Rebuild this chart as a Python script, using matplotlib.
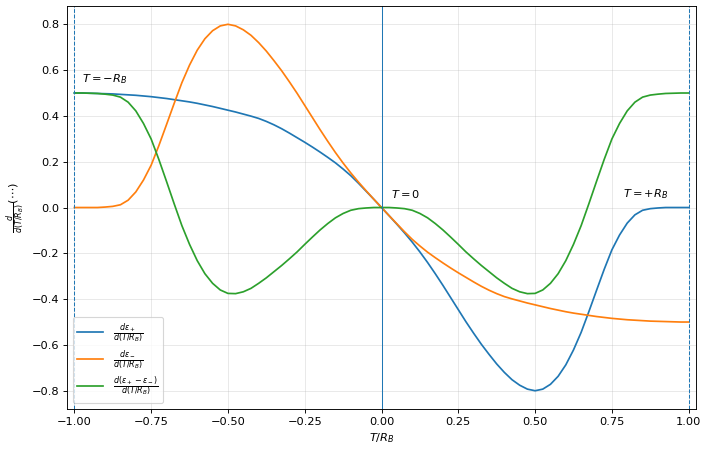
import numpy as np
import matplotlib
matplotlib.use("Agg")
import matplotlib.pyplot as plt

# sampling positions T/R_B
x = [-1.000, -0.975, -0.950, -0.925, -0.900, -0.875, -0.850, -0.825, -0.800, -0.775,
     -0.750, -0.725, -0.700, -0.675, -0.650, -0.625, -0.600, -0.575, -0.550, -0.525,
     -0.500, -0.475, -0.450, -0.425, -0.400, -0.375, -0.350, -0.325, -0.300, -0.275,
     -0.250, -0.225, -0.200, -0.175, -0.150, -0.125, -0.100, -0.075, -0.050, -0.025,
     0.000, 0.025, 0.050, 0.075, 0.100, 0.125, 0.150, 0.175, 0.200, 0.225,
     0.250, 0.275, 0.300, 0.325, 0.350, 0.375, 0.400, 0.425, 0.450, 0.475,
     0.500, 0.525, 0.550, 0.575, 0.600, 0.625, 0.650, 0.675, 0.700, 0.725,
     0.750, 0.775, 0.800, 0.825, 0.850, 0.875, 0.900, 0.925, 0.950, 0.975, 1.000]

# d eps_+ / d(T/R_B)
d_eps_plus = [0.500, 0.500, 0.499, 0.498, 0.497, 0.496, 0.494, 0.492, 0.490, 0.487,
              0.484, 0.480, 0.476, 0.471, 0.466, 0.461, 0.455, 0.448, 0.441, 0.433,
              0.425, 0.417, 0.408, 0.399, 0.389, 0.376, 0.361, 0.344, 0.325, 0.305,
              0.285, 0.264, 0.242, 0.219, 0.195, 0.168, 0.139, 0.106, 0.071, 0.036,
              0.000, -0.036, -0.073, -0.111, -0.151, -0.194, -0.240, -0.289, -0.340, -0.393,
              -0.446, -0.499, -0.549, -0.597, -0.641, -0.683, -0.720, -0.752, -0.776, -0.793,
              -0.800, -0.793, -0.772, -0.737, -0.687, -0.622, -0.545, -0.455, -0.362, -0.270,
              -0.185, -0.120, -0.068, -0.032, -0.012, -0.005, -0.002, 0.000, 0.000, 0.000, 0.000]

# d eps_- / d(T/R_B)
d_eps_minus = [0.000, 0.000, 0.000, 0.000, 0.002, 0.005, 0.012, 0.032, 0.068, 0.120,
               0.185, 0.270, 0.362, 0.455, 0.545, 0.622, 0.687, 0.737, 0.772, 0.793,
               0.800, 0.793, 0.776, 0.752, 0.720, 0.683, 0.641, 0.597, 0.549, 0.499,
               0.446, 0.393, 0.340, 0.289, 0.240, 0.194, 0.151, 0.111, 0.073, 0.036,
               0.000, -0.036, -0.071, -0.106, -0.139, -0.168, -0.195, -0.219, -0.242, -0.264,
               -0.285, -0.305, -0.325, -0.344, -0.361, -0.376, -0.389, -0.399, -0.408, -0.417,
               -0.425, -0.433, -0.441, -0.448, -0.455, -0.461, -0.466, -0.471, -0.476, -0.480,
               -0.484, -0.487, -0.490, -0.492, -0.494, -0.496, -0.497, -0.498, -0.499, -0.500, -0.500]

# d(eps_+ - eps_-) / d(T/R_B)
d_eps_diff = [0.500, 0.500, 0.499, 0.498, 0.495, 0.491, 0.482, 0.460, 0.422, 0.367,
              0.299, 0.210, 0.114, 0.016, -0.079, -0.161, -0.232, -0.289, -0.331, -0.360,
              -0.375, -0.376, -0.368, -0.353, -0.331, -0.307, -0.280, -0.253, -0.224, -0.194,
              -0.161, -0.129, -0.098, -0.070, -0.045, -0.026, -0.012, -0.005, -0.002, 0.000,
              0.000, 0.000, -0.002, -0.005, -0.012, -0.026, -0.045, -0.070, -0.098, -0.129,
              -0.161, -0.194, -0.224, -0.253, -0.280, -0.307, -0.331, -0.353, -0.368, -0.376,
              -0.375, -0.360, -0.331, -0.289, -0.232, -0.161, -0.079, 0.016, 0.114, 0.210,
              0.299, 0.367, 0.422, 0.460, 0.482, 0.491, 0.495, 0.498, 0.499, 0.500, 0.500]

dpi = 82
fig = plt.figure(figsize=(709 / dpi, 453 / dpi), dpi=dpi)
ax = fig.add_axes([0.0945, 0.097, 0.8872, 0.8898])

ax.plot(x, d_eps_plus, label=r'$\frac{d\varepsilon_+}{d(T/R_B)}$')
ax.plot(x, d_eps_minus, label=r'$\frac{d\varepsilon_-}{d(T/R_B)}$')
ax.plot(x, d_eps_diff, label=r'$\frac{d(\varepsilon_+ - \varepsilon_-)}{d(T/R_B)}$')

# reference lines
ax.axvline(0, color='C0', lw=0.9)
ax.axvline(-1, color='C0', ls='--', lw=0.9)
ax.axvline(1, color='C0', ls='--', lw=0.9)

ax.text(-0.975, 0.56, r'$T=-R_B$', va='center')
ax.text(0.03, 0.06, r'$T=0$', va='center')
ax.text(0.785, 0.06, r'$T=+R_B$', va='center')

ax.set_xlim(-1.024, 1.024)
ax.set_xlabel(r'$T/R_B$')
ax.set_ylabel(r'$\frac{d}{d(T/R_B)}(\cdots)$')
ax.grid(True, alpha=0.3)
ax.legend(loc='lower left', labelspacing=0.25, handlelength=2.3)

fig.savefig('out.png', dpi=dpi)
